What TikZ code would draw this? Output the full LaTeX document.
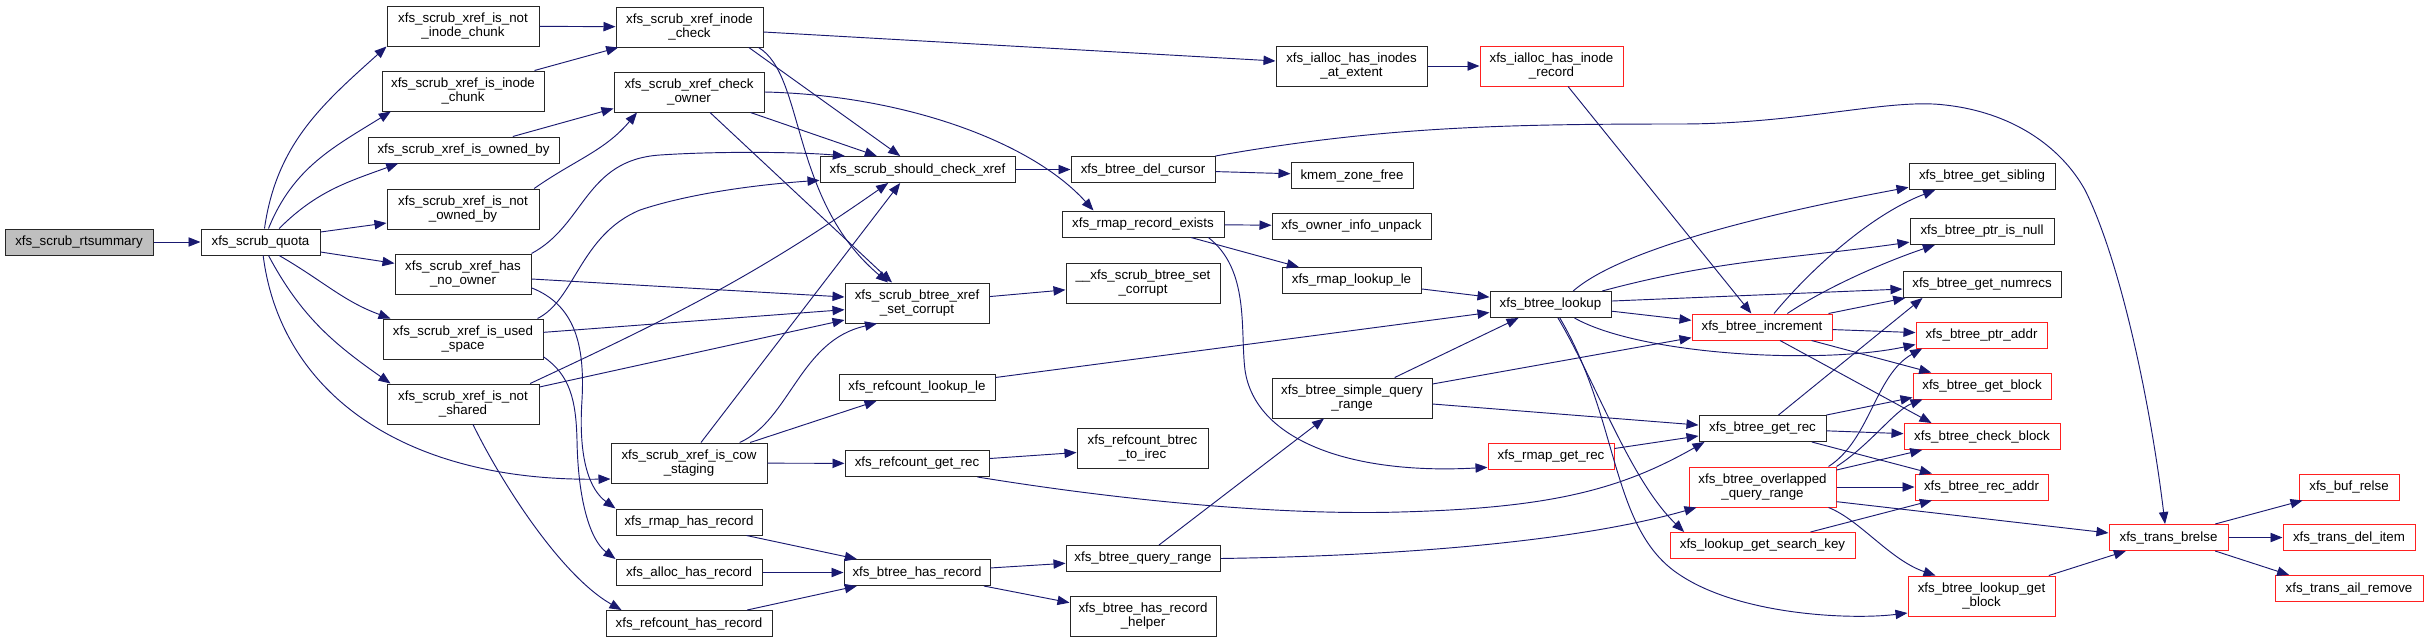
\documentclass[tikz,border=0pt]{standalone}
\usepackage{fontspec}
\setmainfont{Liberation Sans}
\usetikzlibrary{arrows.meta}
\definecolor{calledge}{HTML}{191970}
\definecolor{rootgray}{HTML}{BFBFBF}
\definecolor{truncred}{HTML}{FF2020}

\begin{document}
\begin{tikzpicture}[
    x=0.75pt, y=-0.75pt,
    fn/.style={draw=black!85, line width=0.75pt, fill=white, align=center, minimum height=19.5pt, inner sep=1pt, font=\fontsize{10}{11}\selectfont},
    fn2/.style={fn, minimum height=30pt},
    trunc/.style={draw=truncred},
    w/.style={minimum width=#1*0.75pt},
    call/.style={-{Triangle[length=9pt, width=7pt]}, draw=calledge, line width=0.7pt}
]
\path[use as bounding box, fill=white] (0,0) rectangle (2428,643);

\node[fn, w=148, fill=rootgray] (rtsummary) at (79,242) {xfs\_scrub\_rtsummary};
\node[fn, w=119] (quota) at (260.5,242) {xfs\_scrub\_quota};

\node[fn2, w=152] (nichunk) at (463,26) {xfs\_scrub\_xref\_is\_not\\\_inode\_chunk};
\node[fn2, w=162] (ichunk) at (463,91) {xfs\_scrub\_xref\_is\_inode\\\_chunk};
\node[fn, w=191] (ownedby) at (463.5,150) {xfs\_scrub\_xref\_is\_owned\_by};
\node[fn2, w=152] (notowned) at (463,209) {xfs\_scrub\_xref\_is\_not\\\_owned\_by};
\node[fn2, w=136] (noowner) at (463,274) {xfs\_scrub\_xref\_has\\\_no\_owner};
\node[fn2, w=160] (usedspace) at (463,339) {xfs\_scrub\_xref\_is\_used\\\_space};
\node[fn2, w=152] (notshared) at (463,404) {xfs\_scrub\_xref\_is\_not\\\_shared};

\node[fn2, w=147] (inodecheck) at (689.5,27) {xfs\_scrub\_xref\_inode\\\_check};
\node[fn2, w=150] (checkowner) at (689,92) {xfs\_scrub\_xref\_check\\\_owner};
\node[fn2, w=156] (cowstaging) at (689,463) {xfs\_scrub\_xref\_is\_cow\\\_staging};
\node[fn, w=146] (rmaphas) at (689,522) {xfs\_rmap\_has\_record};
\node[fn, w=146] (allochas) at (689,572.5) {xfs\_alloc\_has\_record};
\node[fn, w=166] (refcounthas) at (689,623.5) {xfs\_refcount\_has\_record};

\node[fn, w=195] (shouldcheck) at (917.5,169.5) {xfs\_scrub\_should\_check\_xref};
\node[fn2, w=144] (setcorrupt) at (917,303) {xfs\_scrub\_btree\_xref\\\_set\_corrupt};
\node[fn, w=156] (refcountlookup) at (917,387.5) {xfs\_refcount\_lookup\_le};
\node[fn, w=144] (refcountgetrec) at (917,463.5) {xfs\_refcount\_get\_rec};
\node[fn, w=146] (btreehas) at (917,572.5) {xfs\_btree\_has\_record};

\node[fn, w=144] (delcursor) at (1143,169.5) {xfs\_btree\_del\_cursor};
\node[fn, w=162] (rmapexists) at (1143,224) {xfs\_rmap\_record\_exists};
\node[fn2, w=154] (scrubsetcorrupt) at (1143,283) {\_\_xfs\_scrub\_btree\_set\\\_corrupt};
\node[fn2, w=131] (btrectoirec) at (1142.5,448) {xfs\_refcount\_btrec\\\_to\_irec};
\node[fn, w=154] (queryrange) at (1143,558.5) {xfs\_btree\_query\_range};
\node[fn2, w=146] (hashelper) at (1143,616) {xfs\_btree\_has\_record\\\_helper};

\node[fn2, w=151] (inodesatextent) at (1351.5,66) {xfs\_ialloc\_has\_inodes\\\_at\_extent};
\node[fn, w=122] (kmemfree) at (1352,175.5) {kmem\_zone\_free};
\node[fn, w=159] (ownerunpack) at (1351.5,226) {xfs\_owner\_info\_unpack};
\node[fn, w=139] (rmaplookup) at (1351.5,280.5) {xfs\_rmap\_lookup\_le};
\node[fn2, w=160] (simplequery) at (1352,398) {xfs\_btree\_simple\_query\\\_range};

\node[fn2, trunc, w=143] (inoderecord) at (1551.5,66) {xfs\_ialloc\_has\_inode\\\_record};
\node[fn, w=121] (lookup) at (1550.5,304.5) {xfs\_btree\_lookup};
\node[fn, trunc, w=126] (rmapgetrec) at (1551,456.5) {xfs\_rmap\_get\_rec};

\node[fn, trunc, w=140] (increment) at (1762,327) {xfs\_btree\_increment};
\node[fn, w=127] (getrec) at (1762.5,428.5) {xfs\_btree\_get\_rec};
\node[fn2, trunc, w=147] (overlapped) at (1762.5,487) {xfs\_btree\_overlapped\\\_query\_range};
\node[fn, trunc, w=185] (searchkey) at (1762.5,545.5) {xfs\_lookup\_get\_search\_key};

\node[fn, w=146] (sibling) at (1982,176.5) {xfs\_btree\_get\_sibling};
\node[fn, w=144] (ptrnull) at (1982,231.5) {xfs\_btree\_ptr\_is\_null};
\node[fn, w=158] (numrecs) at (1982,284.5) {xfs\_btree\_get\_numrecs};
\node[fn, trunc, w=131] (ptraddr) at (1981.5,335) {xfs\_btree\_ptr\_addr};
\node[fn, trunc, w=138] (getblock) at (1982,386) {xfs\_btree\_get\_block};
\node[fn, trunc, w=156] (checkblock) at (1982,436.5) {xfs\_btree\_check\_block};
\node[fn, trunc, w=133] (recaddr) at (1981.5,487) {xfs\_btree\_rec\_addr};
\node[fn2, trunc, w=147] (lookupgetblock) at (1981.5,596) {xfs\_btree\_lookup\_get\\\_block};

\node[fn, trunc, w=119] (brelse) at (2168.5,537.5) {xfs\_trans\_brelse};
\node[fn, trunc, w=100] (bufrelse) at (2349,487) {xfs\_buf\_relse};
\node[fn, trunc, w=132] (delitem) at (2349,537.5) {xfs\_trans\_del\_item};
\node[fn, trunc, w=148] (ailremove) at (2349,588.5) {xfs\_trans\_ail\_remove};

\draw[call] (rtsummary) -- (quota);
\draw[call] ([xshift=3pt]quota.north) to[out=82, in=222] (nichunk.south west);
\draw[call] ([xshift=6pt]quota.north) to[out=68, in=212] ([xshift=7pt]ichunk.south west);
\draw[call] ([xshift=14pt]quota.north) to[out=45, in=200] ([xshift=23pt]ownedby.south west);
\draw[call] ([yshift=7.5pt]quota.east) -- ([yshift=-10.5pt]notowned.west);
\draw[call] ([yshift=-7.5pt]quota.east) -- ([yshift=8pt]noowner.west);
\draw[call] ([xshift=14pt]quota.south) to[out=-30, in=160] ([xshift=6pt]usedspace.north west);
\draw[call] ([xshift=6pt]quota.south) to[out=-62, in=145] ([xshift=3pt]notshared.north west);
\draw[call] ([xshift=2pt]quota.south) .. controls (280,390) and (400,482) .. ([yshift=-12pt]cowstaging.west);

\draw[call] (nichunk) -- (inodecheck);
\draw[call] ([xshift=-7.5pt]ichunk.north east) -- ([xshift=2pt]inodecheck.south west);
\draw[call] ([xshift=37pt]ownedby.north) -- ([yshift=3pt]checkowner.south west);
\draw[call] ([xshift=-4pt]notowned.north east) to[out=35, in=230] ([xshift=-39pt]checkowner.south);

\draw[call] (noowner.north east) .. controls (585,225) and (585,160) .. (660,155) .. controls (720,151) and (800,152) .. ([xshift=19pt]shouldcheck.north west);
\draw[call] ([xshift=-4.5pt]usedspace.north east) .. controls (575,300) and (580,235) .. (640,210) .. controls (700,190) and (780,183) .. ([yshift=2pt]shouldcheck.south west);
\draw[call] ([xshift=-7pt]notshared.north east) to[out=25, in=215] ([xshift=-22pt]shouldcheck.south);
\draw[call] ([xshift=9pt]cowstaging.north) -- ([xshift=-13pt]shouldcheck.south);
\draw[call] ([xshift=-11pt]inodecheck.south east) -- ([xshift=-13pt]shouldcheck.north);
\draw[call] ([xshift=-10.5pt]checkowner.south east) -- ([xshift=-30.5pt]shouldcheck.north);

\draw[call] ([xshift=-3.75pt]inodecheck.south east) .. controls (805,75) and (790,200) .. ([xshift=-21.75pt]setcorrupt.north);
\draw[call] ([xshift=15.75pt]checkowner.south) -- ([xshift=-18.75pt]setcorrupt.north);
\draw[call] ([yshift=-3.75pt]noowner.east) -- ([yshift=4.5pt]setcorrupt.west);
\draw[call] ([yshift=5pt]usedspace.east) -- ([yshift=-5pt]setcorrupt.west);
\draw[call] ([yshift=12.75pt]notshared.east) -- ([yshift=-12.75pt]setcorrupt.west);
\draw[call] ([xshift=38pt]cowstaging.north) .. controls (790,420) and (800,340) .. ([xshift=-30pt]setcorrupt.south);
\draw[call] (setcorrupt) -- (scrubsetcorrupt);

\draw[call] (shouldcheck) -- (delcursor);
\draw[call] (checkowner.east) .. controls (900,95) and (1030,140) .. ([xshift=24pt]rmapexists.north west);
\draw[call] ([yshift=-3.75pt]inodecheck.east) -- ([yshift=3.75pt]inodesatextent.west);
\draw[call] (inodesatextent) -- (inoderecord);
\draw[call] ([xshift=12.4pt]inoderecord.south) -- ([xshift=-8pt]increment.north);
\draw[call] (delcursor) -- (kmemfree);
\draw[call] (delcursor.north east) .. controls (1380,127) and (1500,124) .. (1680,124) .. controls (1800,124) and (1890,98) .. (1945,105) .. controls (2010,112) and (2060,145) .. (2085,190) .. controls (2120,260) and (2150,400) .. ([xshift=-2.6pt]brelse.north);

\draw[call] (rmapexists) -- (ownerunpack);
\draw[call] ([xshift=36pt]rmapexists.south) -- ([xshift=13pt]rmaplookup.north west);
\draw[call] ([xshift=49pt]rmapexists.south) .. controls (1250,270) and (1240,330) .. (1245,370) .. controls (1255,440) and (1350,475) .. ([yshift=2pt]rmapgetrec.south west);
\draw[call] (rmaplookup) -- (lookup);
\draw[call] ([yshift=7.5pt]refcountlookup.east) -- ([yshift=-6pt]lookup.west);
\draw[call] ([xshift=32pt]simplequery.north) -- ([xshift=-24pt]lookup.south);
\draw[call] ([yshift=10.5pt]simplequery.east) -- ([yshift=-8pt]increment.west);
\draw[call] ([yshift=-4.5pt]simplequery.east) -- ([yshift=2.6pt]getrec.west);
\draw[call] ([yshift=6pt]rmapgetrec.east) -- ([yshift=-5.6pt]getrec.west);
\draw[call] ([xshift=-9pt]refcountgetrec.south east) .. controls (1150,505) and (1300,515) .. (1400,512) .. controls (1550,508) and (1620,490) .. ([xshift=4.5pt]getrec.south west);
\draw[call] (refcountgetrec) -- (btrectoirec);
\draw[call] ([xshift=-13pt]cowstaging.north east) -- ([xshift=28.5pt]refcountlookup.south west);
\draw[call] (cowstaging) -- (refcountgetrec);

\draw[call] ([yshift=5pt]noowner.south east) .. controls (575,305) and (585,345) .. (582,400) .. controls (578,460) and (590,490) .. (rmaphas.north west);
\draw[call] ([yshift=2pt]usedspace.south east) .. controls (570,375) and (576,400) .. (577,440) .. controls (578,500) and (590,540) .. (allochas.north west);
\draw[call] ([xshift=7.5pt]notshared.south) .. controls (500,480) and (560,575) .. ([xshift=12pt]refcounthas.north west);
\draw[call] ([xshift=-12pt]rmaphas.south east) -- ([xshift=10pt]btreehas.north west);
\draw[call] (allochas) -- (btreehas);
\draw[call] ([xshift=-19pt]refcounthas.north east) -- ([xshift=10pt]btreehas.south west);
\draw[call] (btreehas) -- (queryrange);
\draw[call] ([xshift=-5pt]btreehas.south east) -- ([yshift=10pt]hashelper.west);
\draw[call] ([xshift=12pt]queryrange.north) -- ([xshift=-21pt]simplequery.south);
\draw[call] (queryrange.east) .. controls (1450,555) and (1600,535) .. ([xshift=6pt]overlapped.south west);

\draw[call] ([xshift=17pt]lookup.north) .. controls (1620,250) and (1760,215) .. ([yshift=2pt]sibling.south west);
\draw[call] ([xshift=-7pt]lookup.north east) to[out=15, in=188] ([yshift=-8pt]ptrnull.west);
\draw[call] ([yshift=2.6pt]lookup.east) -- ([yshift=-3.4pt]numrecs.west);
\draw[call] ([yshift=-5pt]lookup.east) -- ([yshift=5pt]increment.west);
\draw[call] ([xshift=18pt]lookup.south) .. controls (1640,355) and (1820,365) .. ([yshift=3pt]ptraddr.south west);
\draw[call] ([xshift=5.6pt]lookup.south) .. controls (1595,380) and (1630,480) .. ([xshift=11pt]searchkey.north west);
\draw[call] ([xshift=7pt]lookup.south) .. controls (1620,420) and (1610,530) .. (1680,575) .. controls (1740,615) and (1850,620) .. ([yshift=-12.75pt]lookupgetblock.west);

\draw[call] ([xshift=9pt]increment.north) .. controls (1810,270) and (1870,215) .. ([xshift=20pt]sibling.south west);
\draw[call] ([xshift=19pt]increment.north) .. controls (1830,285) and (1890,260) .. ([xshift=19pt]ptrnull.south west);
\draw[call] ([xshift=-3pt]increment.north east) -- ([xshift=2pt]numrecs.south west);
\draw[call] (increment) -- (ptraddr);
\draw[call] ([xshift=-15.75pt]increment.south east) -- ([xshift=14pt]getblock.north west);
\draw[call] ([xshift=13.5pt]increment.south) -- ([xshift=21pt]checkblock.north west);

\draw[call] ([xshift=12pt]getrec.north) -- ([xshift=15pt]numrecs.south west);
\draw[call] (getrec.north east) -- ([yshift=1.5pt]getblock.south west);
\draw[call] (getrec) -- (checkblock);
\draw[call] ([xshift=-11pt]getrec.south east) -- ([xshift=13pt]recaddr.north west);

\draw[call] ([xshift=-6pt]overlapped.north east) .. controls (1870,440) and (1875,375) .. ([xshift=5pt]ptraddr.south west);
\draw[call] (overlapped.north east) .. controls (1870,445) and (1895,410) .. ([xshift=7.5pt]getblock.south west);
\draw[call] ([yshift=12.75pt]overlapped.east) -- ([xshift=14pt]checkblock.south west);
\draw[call] (overlapped) -- (recaddr);
\draw[call] ([yshift=-11pt]overlapped.east) -- ([yshift=3.4pt]brelse.west);
\draw[call] ([xshift=-6pt]overlapped.south east) .. controls (1860,520) and (1890,560) .. ([xshift=21pt]lookupgetblock.north west);
\draw[call] ([xshift=36pt]searchkey.north) -- ([xshift=13pt]recaddr.south west);

\draw[call] ([xshift=-5pt]lookupgetblock.north east) -- ([xshift=13pt]brelse.south west);
\draw[call] ([xshift=-10pt]brelse.north east) -- ([xshift=3pt]bufrelse.south west);
\draw[call] (brelse) -- (delitem);
\draw[call] ([xshift=-10pt]brelse.south east) -- ([xshift=11pt]ailremove.north west);
\end{tikzpicture}
\end{document}
